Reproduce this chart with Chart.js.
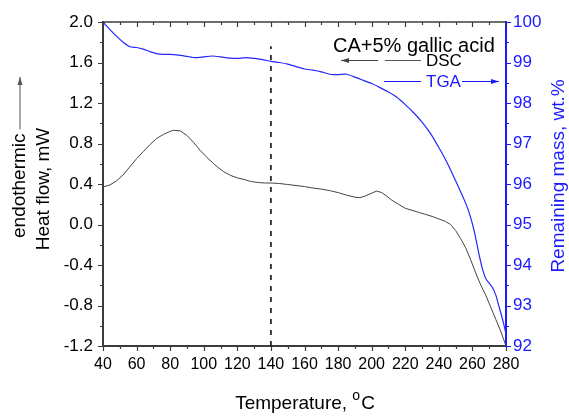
<!DOCTYPE html>
<html>
<head>
<meta charset="utf-8">
<script src="https://cdn.jsdelivr.net/npm/chart.js@4/dist/chart.umd.min.js"></script>
<style>
  body { margin: 0; background: #fff; }
  canvas { display: block; }
</style>
</head>
<body>
<canvas id="thermoChart" width="569" height="417"></canvas>
<script>
// DSC heat flow (mW) against temperature
const dscTemps = [40, 44, 48, 52, 56, 60, 64, 68, 72, 76, 80, 82, 86, 90, 94, 98, 102, 106, 108, 112, 116, 120, 124, 128, 132, 136, 140,
  145, 150, 155, 160, 165, 170, 175, 180, 185, 190, 193, 196, 200, 203, 206, 209, 212, 216, 220, 224, 228, 232, 236, 240,
  244, 247, 250, 253, 256, 259, 262, 265, 268, 271, 274, 277, 280];
const dscValues = [0.37, 0.39, 0.43, 0.49, 0.57, 0.65, 0.72, 0.79, 0.85, 0.89, 0.92, 0.93, 0.925, 0.88, 0.81, 0.73, 0.66, 0.60, 0.57, 0.52, 0.485, 0.46, 0.445, 0.425, 0.415, 0.41, 0.41,
  0.405, 0.395, 0.385, 0.375, 0.36, 0.35, 0.335, 0.315, 0.29, 0.27, 0.265, 0.28, 0.31, 0.33, 0.315, 0.28, 0.24, 0.20, 0.16, 0.14, 0.12, 0.10, 0.08, 0.055,
  0.03, 0.0, -0.06, -0.14, -0.23, -0.35, -0.48, -0.60, -0.70, -0.82, -0.94, -1.06, -1.20];

// TGA remaining mass (wt.%) against temperature
const tgaTemps = [40, 44, 48, 52, 56, 60, 64, 68, 72, 76, 80, 85, 90, 95, 100, 105, 110, 115, 120, 125, 130, 135, 140,
  145, 150, 155, 160, 165, 170, 175, 180, 185, 190, 195, 200, 205, 210, 215, 220, 225, 230, 235, 240, 245, 250, 255,
  258, 261, 264, 266, 268, 270, 272, 274, 276, 278, 280];
const tgaValues = [100, 99.82, 99.65, 99.5, 99.39, 99.37, 99.33, 99.27, 99.22, 99.2, 99.2, 99.18, 99.15, 99.12, 99.14, 99.16, 99.14, 99.11, 99.1, 99.12, 99.1, 99.07, 99.03,
  99.0, 98.96, 98.9, 98.84, 98.81, 98.77, 98.71, 98.7, 98.71, 98.64, 98.56, 98.48, 98.38, 98.27, 98.14, 97.96, 97.76, 97.53, 97.25, 96.9, 96.52, 96.08, 95.62,
  95.3, 94.85, 94.25, 93.9, 93.66, 93.55, 93.44, 93.25, 92.95, 92.65, 92.3];

// reference temperature marker
const markerTemp = 140;
const markerRange = [-1.2, 1.76];

const xTicks = { min: 40, max: 280, step: 20, minor: 10 };
const heatTicks = { min: -1.2, max: 2.0, step: 0.4, minor: 0.2 };
const massTicks = { min: 92, max: 100, step: 1, minor: 0.5 };

const FONT = "'Liberation Sans', Arial, sans-serif";
const AXIS_GREY = '#3c3c3c';
const BLUE = '#1a1aff';

function pairs(xs, ys) {
  return xs.map((x, i) => ({ x: x, y: ys[i] }));
}

function arrow(ctx, x1, y1, x2, y2, color) {
  // line from (x1,y1) to (x2,y2) with a head at the end
  ctx.strokeStyle = color;
  ctx.fillStyle = color;
  ctx.lineWidth = 1;
  ctx.beginPath();
  ctx.moveTo(x1, y1);
  ctx.lineTo(x2, y2);
  ctx.stroke();
  const a = Math.atan2(y2 - y1, x2 - x1);
  ctx.beginPath();
  ctx.moveTo(x2, y2);
  ctx.lineTo(x2 - 8 * Math.cos(a) + 2.5 * Math.sin(a), y2 - 8 * Math.sin(a) - 2.5 * Math.cos(a));
  ctx.lineTo(x2 - 8 * Math.cos(a) - 2.5 * Math.sin(a), y2 - 8 * Math.sin(a) + 2.5 * Math.cos(a));
  ctx.closePath();
  ctx.fill();
}

// frame, minor/major tick marks, axis titles and the annotation block
const decorations = {
  id: 'decorations',
  afterDraw(chart) {
    const { ctx, chartArea: a, scales } = chart;
    const sx = scales.x, sy = scales.y, sm = scales.mass;
    ctx.save();

    // top frame line
    ctx.strokeStyle = AXIS_GREY;
    ctx.lineWidth = 1.5;
    ctx.beginPath();
    ctx.moveTo(a.left, a.top);
    ctx.lineTo(a.right, a.top);
    ctx.stroke();

    ctx.lineWidth = 1.2;
    ctx.beginPath();
    for (let t = xTicks.min; t <= xTicks.max + 1e-9; t += xTicks.minor) {
      const px = Math.round(sx.getPixelForValue(t)) + 0.5;
      const len = (t - xTicks.min) % xTicks.step === 0 ? 5 : 3;
      ctx.moveTo(px, a.bottom); ctx.lineTo(px, a.bottom + len);
      ctx.moveTo(px, a.top); ctx.lineTo(px, a.top + len);
    }
    let i = 0;
    for (let v = heatTicks.min; v <= heatTicks.max + 1e-9; v += heatTicks.minor, i++) {
      const py = Math.round(sy.getPixelForValue(v)) + 0.5;
      const len = i % 2 === 0 ? 5 : 3;
      ctx.moveTo(a.left, py); ctx.lineTo(a.left - len, py);
    }
    ctx.stroke();

    ctx.strokeStyle = BLUE;
    ctx.beginPath();
    i = 0;
    for (let v = massTicks.min; v <= massTicks.max + 1e-9; v += massTicks.minor, i++) {
      const py = Math.round(sm.getPixelForValue(v)) + 0.5;
      const len = i % 2 === 0 ? 5 : 3;
      ctx.moveTo(a.right, py); ctx.lineTo(a.right + len, py);
    }
    ctx.stroke();

    // x title with superscript degree mark
    ctx.fillStyle = '#000';
    ctx.textBaseline = 'middle';
    ctx.textAlign = 'left';
    ctx.font = '19px ' + FONT;
    const xt = 'Temperature, ';
    const wx = ctx.measureText(xt).width;
    ctx.font = '14px ' + FONT;
    const wo = ctx.measureText('o').width;
    ctx.font = '19px ' + FONT;
    const wc = ctx.measureText('C').width;
    let tx = (a.left + a.right) / 2 - (wx + wo + wc) / 2;
    ctx.fillText(xt, tx, 404);
    ctx.font = '14px ' + FONT;
    ctx.fillText('o', tx + wx, 396);
    ctx.font = '19px ' + FONT;
    ctx.fillText('C', tx + wx + wo + 1, 404);

    // left titles, rotated
    ctx.save();
    ctx.translate(20, 238);
    ctx.rotate(-Math.PI / 2);
    ctx.textAlign = 'left';
    ctx.font = '19px ' + FONT;
    ctx.fillText('endothermic', 0, 0);
    const we = ctx.measureText('endothermic').width;
    arrow(ctx, we + 4, 0, 161, 0, '#555');
    ctx.restore();

    ctx.save();
    ctx.translate(44, 189);
    ctx.rotate(-Math.PI / 2);
    ctx.textAlign = 'center';
    ctx.fillStyle = '#000';
    ctx.font = '19px ' + FONT;
    ctx.fillText('Heat flow, mW', 0, 0);
    ctx.restore();

    // right title
    ctx.save();
    ctx.translate(559, 176);
    ctx.rotate(-Math.PI / 2);
    ctx.textAlign = 'center';
    ctx.fillStyle = BLUE;
    ctx.font = '19px ' + FONT;
    ctx.fillText('Remaining mass, wt.%', 0, 0);
    ctx.restore();

    // annotation block
    ctx.textAlign = 'left';
    ctx.fillStyle = '#000';
    ctx.font = '20px ' + FONT;
    ctx.fillText('CA+5% gallic acid', 333, 46);
    ctx.font = '17px ' + FONT;
    ctx.fillText('DSC', 426, 61);
    ctx.strokeStyle = '#555';
    ctx.lineWidth = 1;
    ctx.beginPath();
    ctx.moveTo(385, 60.5); ctx.lineTo(421, 60.5);
    ctx.stroke();
    arrow(ctx, 378, 60.5, 341, 60.5, '#444');

    ctx.fillStyle = BLUE;
    ctx.fillText('TGA', 426, 82);
    ctx.strokeStyle = BLUE;
    ctx.beginPath();
    ctx.moveTo(384, 81.5); ctx.lineTo(421, 81.5);
    ctx.stroke();
    arrow(ctx, 462, 81.5, 499, 81.5, BLUE);

    ctx.restore();
  }
};

new Chart(document.getElementById('thermoChart').getContext('2d'), {
  type: 'scatter',
  data: {
    datasets: [
      {
        label: 'DSC',
        data: pairs(dscTemps, dscValues),
        yAxisID: 'y',
        showLine: true,
        borderColor: '#444',
        borderWidth: 1,
        pointRadius: 0,
        tension: 0
      },
      {
        label: 'TGA',
        data: pairs(tgaTemps, tgaValues),
        yAxisID: 'mass',
        showLine: true,
        borderColor: '#2626ff',
        borderWidth: 1.2,
        pointRadius: 0,
        tension: 0.2
      },
      {
        label: 'marker',
        data: markerRange.map(v => ({ x: markerTemp, y: v })),
        yAxisID: 'y',
        showLine: true,
        borderColor: '#000',
        borderWidth: 1.5,
        borderDash: [5, 6],
        pointRadius: 0
      }
    ]
  },
  options: {
    responsive: false,
    animation: false,
    layout: { padding: { top: 22, left: 0, right: 0, bottom: 0 } },
    plugins: { legend: { display: false }, tooltip: { enabled: false } },
    scales: {
      x: {
        type: 'linear',
        min: xTicks.min,
        max: xTicks.max,
        afterFit: s => { s.height = 71; },
        grid: { display: false, drawTicks: false },
        border: { display: true, color: AXIS_GREY, width: 2 },
        ticks: {
          stepSize: xTicks.step,
          padding: 9,
          color: '#000',
          maxRotation: 0,
          font: { family: FONT, size: 16 }
        }
      },
      y: {
        position: 'left',
        min: heatTicks.min,
        max: heatTicks.max,
        afterFit: s => { s.width = 103; },
        grid: { display: false, drawTicks: false },
        border: { display: true, color: AXIS_GREY, width: 2 },
        ticks: {
          stepSize: heatTicks.step,
          padding: 10,
          color: '#000',
          font: { family: FONT, size: 17 },
          callback: v => v.toFixed(1)
        }
      },
      mass: {
        position: 'right',
        min: massTicks.min,
        max: massTicks.max,
        afterFit: s => { s.width = 63; },
        grid: { display: false, drawTicks: false },
        border: { display: true, color: BLUE, width: 2 },
        ticks: {
          stepSize: massTicks.step,
          padding: 7,
          color: BLUE,
          font: { family: FONT, size: 17 }
        }
      }
    }
  },
  plugins: [decorations]
});
</script>
</body>
</html>
